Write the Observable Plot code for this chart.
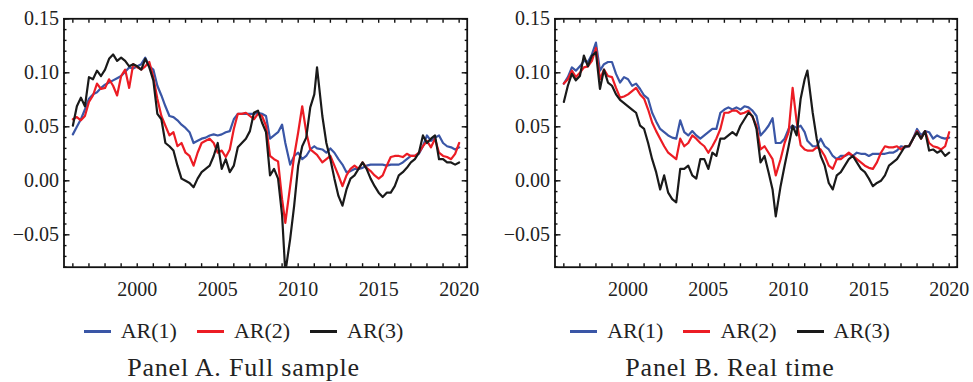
<!DOCTYPE html>
<html><head><meta charset="utf-8">
<script src="https://cdn.jsdelivr.net/npm/d3@7"></script>
<script src="https://cdn.jsdelivr.net/npm/@observablehq/plot@0.6"></script>
<style>
body{margin:0;background:#fff;}
#root{position:relative;width:973px;height:382px;font-family:"Liberation Serif","Times New Roman",serif;color:#222;overflow:hidden;}
.panel{position:absolute;top:0;height:382px;}
.legend{position:absolute;top:318px;left:0;width:100%;display:flex;justify-content:center;align-items:center;font-size:22px;line-height:26px;height:26px;}
.item{display:flex;align-items:center;margin:0 10px;}
.sw{width:27px;height:3px;margin-right:10px;}
.caption{position:absolute;top:355px;left:0;width:100%;text-align:center;font-size:26px;line-height:26px;letter-spacing:0.8px;}
</style></head><body><div id="root"></div>
<script>
// time axis (decimal years)
const dates = [
1996,1996.25,1996.5,1996.75, 1997,1997.25,1997.5,1997.75, 1998,1998.25,1998.5,1998.75,
1999,1999.25,1999.5,1999.75, 2000,2000.25,2000.5,2000.75, 2001,2001.25,2001.5,2001.75,
2002,2002.25,2002.5,2002.75, 2003,2003.25,2003.5,2003.75, 2004,2004.25,2004.5,2004.75,
2005,2005.25,2005.5,2005.75, 2006,2006.25,2006.5,2006.75, 2007,2007.25,2007.5,2007.75,
2008,2008.25,2008.5,2008.75, 2009,2009.2,2009.5,2009.75, 2010,2010.25,2010.5,2010.75,
2011,2011.17,2011.5,2011.75, 2012,2012.25,2012.5,2012.75, 2013,2013.25,2013.5,2013.75,
2014,2014.25,2014.5,2014.75, 2015,2015.25,2015.5,2015.75, 2016,2016.25,2016.5,2016.75,
2017,2017.25,2017.5,2017.75, 2018,2018.25,2018.5,2018.75, 2019,2019.25,2019.5,2019.75,
2020];

const seriesNames = ["AR(1)", "AR(2)", "AR(3)"];
const seriesColors = ["#3a56a6", "#ec1c24", "#1a1a1a"];

// Panel A. Full sample
const ar1A = [
0.043,0.050,0.057,0.066, 0.076,0.080,0.082,0.086, 0.089,0.091,0.093,0.095,
0.097,0.101,0.105,0.104, 0.106,0.108,0.114,0.106, 0.103,0.088,0.079,0.069,
0.060,0.059,0.056,0.052, 0.049,0.045,0.035,0.037, 0.039,0.040,0.042,0.043,
0.042,0.043,0.045,0.046, 0.057,0.062,0.062,0.062, 0.062,0.062,0.063,0.062,
0.060,0.039,0.042,0.045, 0.052,0.035,0.015,0.023, 0.026,0.020,0.023,0.029,
0.032,0.030,0.029,0.026, 0.030,0.026,0.020,0.015, 0.008,0.009,0.011,0.011,
0.012,0.014,0.015,0.015, 0.015,0.015,0.014,0.015, 0.015,0.015,0.017,0.020,
0.023,0.023,0.025,0.032, 0.042,0.037,0.040,0.042, 0.035,0.032,0.031,0.029,
0.031];
const ar2A = [
0.057,0.059,0.056,0.060, 0.073,0.079,0.090,0.085, 0.086,0.094,0.088,0.079,
0.097,0.103,0.086,0.108, 0.105,0.103,0.106,0.110, 0.096,0.076,0.060,0.051,
0.042,0.045,0.032,0.035, 0.026,0.023,0.014,0.026, 0.035,0.037,0.039,0.035,
0.026,0.028,0.022,0.029, 0.048,0.062,0.062,0.063, 0.060,0.057,0.062,0.060,
0.051,0.023,0.020,0.018, -0.017,-0.039,-0.005,0.023, 0.045,0.069,0.045,0.029,
0.026,0.024,0.017,0.020, 0.023,0.014,0.005,-0.005, 0.005,0.011,0.014,0.011,
0.017,0.012,0.009,0.005, 0.002,0.005,0.014,0.022, 0.023,0.023,0.022,0.025,
0.023,0.023,0.026,0.032, 0.037,0.031,0.039,0.026, 0.023,0.022,0.020,0.025,
0.035];
const ar3A = [
0.051,0.069,0.077,0.069, 0.096,0.094,0.102,0.097, 0.103,0.113,0.117,0.111,
0.114,0.111,0.106,0.108, 0.106,0.103,0.113,0.105, 0.093,0.062,0.057,0.035,
0.032,0.028,0.014,0.002, 0.000,-0.002,-0.006,0.002, 0.008,0.011,0.014,0.023,
0.035,0.011,0.020,0.008, 0.014,0.031,0.035,0.039, 0.046,0.063,0.065,0.054,
0.045,0.005,0.011,0.002, -0.032,-0.085,-0.054,-0.023, 0.014,0.032,0.040,0.068,
0.080,0.105,0.060,0.035, 0.020,0.002,-0.014,-0.023, -0.008,0.002,0.005,0.011,
0.017,0.011,0.002,-0.005, -0.011,-0.015,-0.011,-0.011, -0.005,0.005,0.008,0.012,
0.017,0.020,0.026,0.042, 0.035,0.039,0.042,0.020, 0.020,0.017,0.017,0.015,
0.017];

// Panel B. Real time
const ar1B = [
0.090,0.096,0.105,0.102, 0.106,0.111,0.110,0.117, 0.128,0.102,0.108,0.110,
0.110,0.099,0.091,0.096, 0.094,0.088,0.090,0.085, 0.079,0.076,0.063,0.055,
0.048,0.045,0.042,0.040, 0.039,0.056,0.045,0.042, 0.046,0.042,0.039,0.042,
0.045,0.048,0.048,0.063, 0.066,0.068,0.066,0.068, 0.066,0.069,0.068,0.065,
0.060,0.042,0.046,0.051, 0.058,0.035,0.035,0.039, 0.048,0.051,0.049,0.051,
0.045,0.037,0.032,0.032, 0.039,0.032,0.029,0.023, 0.020,0.023,0.023,0.025,
0.023,0.026,0.025,0.025, 0.023,0.025,0.025,0.025, 0.025,0.026,0.026,0.028,
0.032,0.031,0.032,0.039, 0.048,0.042,0.046,0.045, 0.039,0.042,0.040,0.039,
0.040];
const ar2B = [
0.090,0.094,0.102,0.096, 0.100,0.105,0.106,0.111, 0.123,0.094,0.103,0.097,
0.096,0.086,0.077,0.078, 0.080,0.083,0.086,0.080, 0.076,0.066,0.054,0.046,
0.039,0.032,0.026,0.023, 0.020,0.039,0.032,0.035, 0.042,0.039,0.035,0.032,
0.026,0.032,0.039,0.048, 0.063,0.063,0.065,0.065, 0.062,0.063,0.065,0.059,
0.051,0.029,0.032,0.026, 0.020,0.005,0.020,0.035, 0.045,0.086,0.055,0.033,
0.029,0.028,0.028,0.031, 0.029,0.023,0.014,0.011, 0.020,0.020,0.023,0.026,
0.023,0.020,0.017,0.014, 0.012,0.011,0.017,0.026, 0.032,0.031,0.031,0.032,
0.029,0.032,0.032,0.039, 0.046,0.039,0.046,0.035, 0.032,0.031,0.029,0.032,
0.045];
const ar3B = [
0.073,0.088,0.099,0.093, 0.097,0.116,0.106,0.116, 0.119,0.085,0.103,0.091,
0.088,0.080,0.075,0.072, 0.069,0.066,0.063,0.051, 0.048,0.035,0.020,0.008,
-0.008,0.005,-0.011,-0.017, -0.020,0.011,0.011,0.014, 0.005,0.002,0.020,0.020,
0.011,0.026,0.023,0.039, 0.039,0.042,0.045,0.042, 0.051,0.057,0.063,0.060,
0.048,0.017,0.023,0.008, -0.008,-0.033,-0.005,0.014, 0.032,0.051,0.042,0.076,
0.094,0.102,0.063,0.039, 0.023,0.014,-0.002,-0.008, 0.005,0.008,0.014,0.020,
0.023,0.017,0.011,0.008, 0.002,-0.005,-0.002,0.000, 0.005,0.014,0.017,0.020,
0.026,0.032,0.032,0.039, 0.045,0.039,0.046,0.028, 0.029,0.026,0.028,0.023,
0.026];

// axis ticks / labels
const xTickLabels = [2000, 2005, 2010, 2015, 2020];
const yTickLabels = [-0.05, 0.00, 0.05, 0.10, 0.15];
const xMinorTicks = d3.range(1996, 2021);
const yMinorTicks = d3.range(-8, 16).map(i => i / 100);

function makePanel(ar1, ar2, ar3, m) {
  const rows = [];
  [ar1, ar2, ar3].forEach((vals, s) => {
    vals.forEach((v, i) => rows.push({date: dates[i], value: v, series: seriesNames[s]}));
  });
  const tickStyle = {stroke: "#111", strokeWidth: 1.4, text: null, label: null};
  return Plot.plot({
    width: m.width, height: 300,
    marginLeft: m.left, marginRight: m.right, marginTop: 18.3, marginBottom: 33.3,
    style: {fontFamily: "'Liberation Serif', 'Times New Roman', serif", fontSize: "20px", color: "#222", background: "transparent", overflow: "visible"},
    x: {domain: [1995.45, 2020.5], label: null},
    y: {domain: [-0.08, 0.15], label: null},
    color: {domain: seriesNames, range: seriesColors},
    marks: [
      Plot.line(rows, {x: "date", y: "value", stroke: "series", z: "series", strokeWidth: 2.2, clip: true, strokeLinejoin: "round"}),
      Plot.axisX(xMinorTicks, {anchor: "bottom", tickSize: -3.5, ...tickStyle}),
      Plot.axisX(xMinorTicks, {anchor: "top", tickSize: -3.5, ...tickStyle}),
      Plot.axisY(yMinorTicks, {anchor: "left", tickSize: -3, ...tickStyle}),
      Plot.axisY(yMinorTicks, {anchor: "right", tickSize: -3, ...tickStyle}),
      Plot.axisY(yTickLabels, {anchor: "left", tickSize: -6, ...tickStyle}),
      Plot.axisY(yTickLabels, {anchor: "right", tickSize: -6, ...tickStyle}),
      Plot.axisX(xTickLabels, {anchor: "bottom", tickSize: 0, tickPadding: 15, tickFormat: d => String(d), label: null}),
      Plot.axisY(yTickLabels, {anchor: "left", tickSize: 0, tickPadding: 5, tickFormat: d3.format(".2f"), label: null}),
      Plot.frame({stroke: "#111", strokeWidth: 1.8})
    ]
  });
}

function legend() {
  const div = document.createElement("div");
  div.className = "legend";
  seriesNames.forEach((name, i) => {
    const it = document.createElement("div");
    it.className = "item";
    const sw = document.createElement("div");
    sw.className = "sw";
    sw.style.background = seriesColors[i];
    const t = document.createElement("span");
    t.textContent = name;
    it.appendChild(sw); it.appendChild(t);
    div.appendChild(it);
  });
  return div;
}

const root = document.getElementById("root");
const panels = [
  {left: 0, width: 487, ml: 63.5, mr: 20.3, data: [ar1A, ar2A, ar3A], title: "Panel A. Full sample"},
  {left: 487, width: 486, ml: 67.5, mr: 16.3, data: [ar1B, ar2B, ar3B], title: "Panel B. Real time"}
];
panels.forEach(p => {
  const div = document.createElement("div");
  div.className = "panel";
  div.style.left = p.left + "px";
  div.style.width = p.width + "px";
  const svg = makePanel(...p.data, {width: p.width, left: p.ml, right: p.mr});
  svg.style.position = "absolute"; svg.style.left = "0"; svg.style.top = "0";
  div.appendChild(svg);
  div.appendChild(legend());
  const cap = document.createElement("div");
  cap.className = "caption";
  cap.textContent = p.title;
  div.appendChild(cap);
  root.appendChild(div);
});
</script></body></html>
